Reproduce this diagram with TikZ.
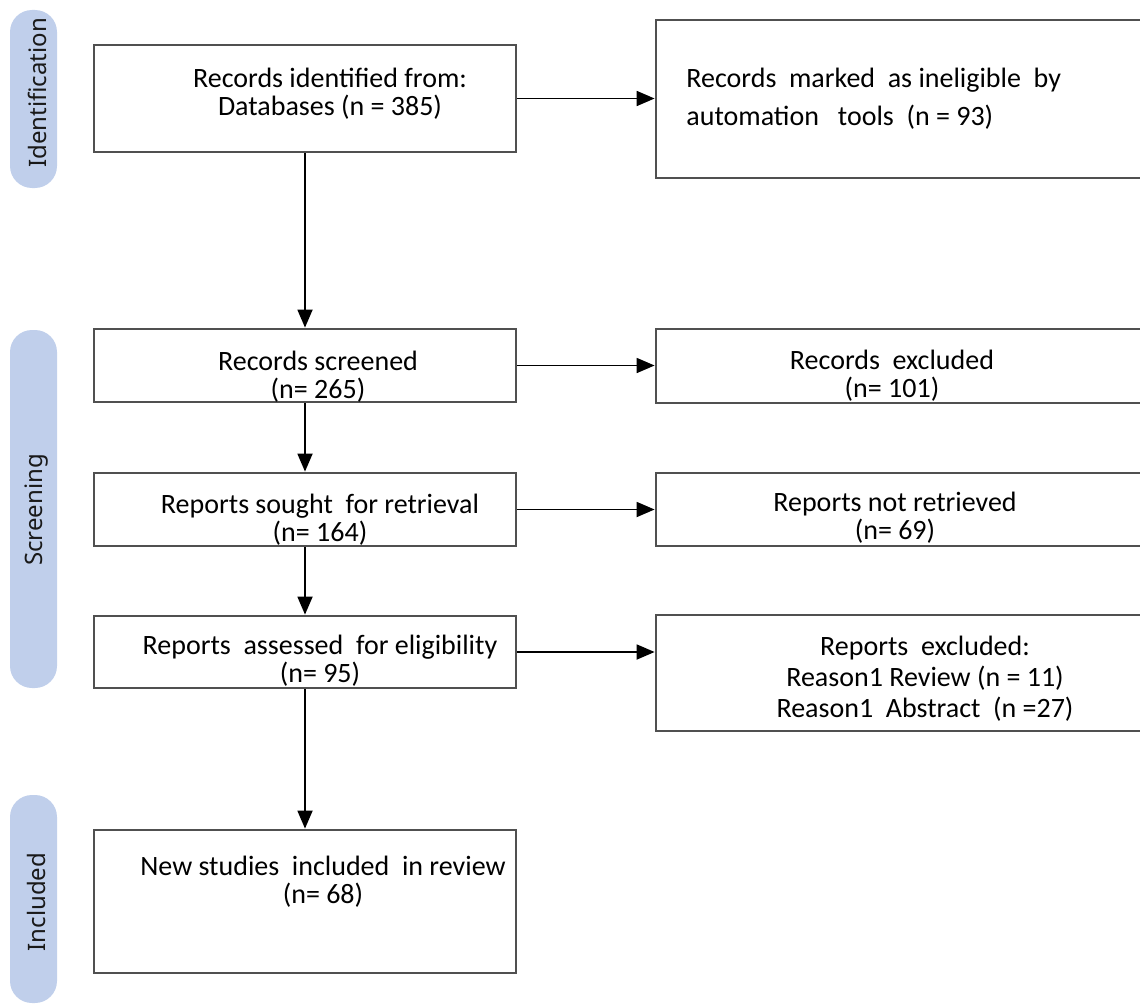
\documentclass[tikz,border=0pt]{standalone}
\usepackage{fontspec}
\setmainfont{Carlito}
\newfontfamily\sidefont{Noto Sans}
\usetikzlibrary{arrows.meta}
\definecolor{pillblue}{RGB}{192,207,235}
\definecolor{boxgray}{RGB}{80,80,80}

\begin{document}
\begin{tikzpicture}[x=0.5pt,y=-0.5pt,
  box/.style={draw=boxgray, line width=1.4pt, inner sep=0pt},
  txt/.style={align=center, font=\fontsize{14}{14}\selectfont, text=black, inner sep=0pt},
  pill/.style={fill=pillblue, rounded corners=11pt, inner sep=0pt, minimum width=23.5pt},
  side/.style={rotate=90, font=\sidefont\fontsize{12}{14}\selectfont, text=black!90},
  arr/.style={-{Triangle[length=9pt,width=7.5pt]}, line width=0.9pt}]
\useasboundingbox (0,0) rectangle (1140,1006);
\clip (0,0) rectangle (1140,1006);

% phase labels
\node[pill, minimum height=89pt] (pid) at (33.5,99) {};
\node[pill, minimum height=179pt] (pscr) at (33.5,509) {};
\node[pill, minimum height=104pt] (pinc) at (33.5,899) {};
\node[side] (pidt) at (37,93) {Identification};
\node[side] (pscrt) at (37,510) {Screening};
\node[side] (pinct) at (37,902) {Included};

% main column
\node[box, minimum width=211pt, minimum height=53.5pt] (ident) at (305,98.5) {};
\node[box, minimum width=211pt, minimum height=36.5pt] (screen) at (305,365.5) {};
\node[box, minimum width=211pt, minimum height=36.5pt] (sought) at (305,509.5) {};
\node[box, minimum width=211pt, minimum height=36pt] (assess) at (305,652) {};
\node[box, minimum width=211pt, minimum height=71.5pt] (incl) at (305,901.5) {};

% side column
\node[box, minimum width=252pt, minimum height=79pt] (auto) at (908,99) {};
\node[box, minimum width=252pt, minimum height=37pt] (rexcl) at (908,366) {};
\node[box, minimum width=252pt, minimum height=36.5pt] (rnot) at (908,509.5) {};
\node[box, minimum width=252pt, minimum height=58pt] (rrep) at (908,673) {};

% texts
\node[txt] (identt) at (330,94) {Records identified from:\\Databases (n = 385)};
\node[txt, align=left, anchor=west, font=\fontsize{14}{19}\selectfont] (autot) at (686,99)
  {Records \ marked \ as ineligible \ by\\automation \ \ tools \ (n = 93)};
\node[txt] (screent) at (318,377) {Records screened\\(n= 265)};
\node[txt] (soughtt) at (320,519.5) {Reports sought \ for retrieval\\(n= 164)};
\node[txt] (assesst) at (320,660.5) {Reports \ assessed \ for eligibility\\(n= 95)};
\node[txt] (inclt) at (323,882) {New studies \ included \ in review\\(n= 68)};
\node[txt] (rexclt) at (892,375.5) {Records \ excluded\\(n= 101)};
\node[txt] (rnott) at (895,517.5) {Reports not retrieved\\(n= 69)};
\node[txt, font=\fontsize{14}{15.5}\selectfont] (rrept) at (925,679)
  {Reports \ excluded:\\Reason1 Review (n = 11)\\Reason1 \ Abstract \ (n =27)};

% arrows
\draw[arr] (ident) -- (screen);
\draw[arr] (screen) -- (sought);
\draw[arr] (sought) -- (assess);
\draw[arr] (assess) -- (incl);
\draw[arr] (ident.east) -- (ident.east -| auto.west);
\draw[arr] (screen.east) -- (screen.east -| rexcl.west);
\draw[arr] (sought.east) -- (sought.east -| rnot.west);
\draw[arr] (assess.east) -- (assess.east -| rrep.west);
\end{tikzpicture}
\end{document}
